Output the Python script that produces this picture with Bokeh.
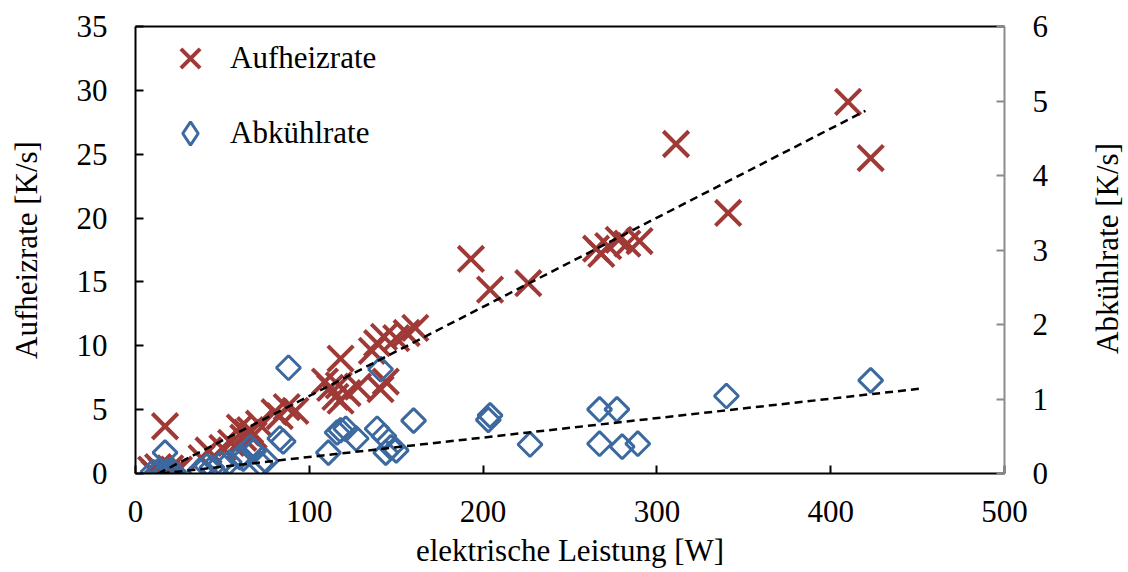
import math
from bokeh.plotting import figure
from bokeh.models import Range1d, LinearAxis, Legend, LegendItem, FixedTicker, Label
from bokeh.embed import file_html
from bokeh.resources import INLINE

# ---------------- data ----------------
heat_x = [9, 11, 13, 15, 17, 18, 20, 22, 25,
          38, 42, 50, 55, 60, 62, 64, 66, 68, 71, 80, 83, 87, 92,
          109, 112, 115, 117, 118, 118, 122, 128, 136, 139, 141, 143, 144, 150, 156, 161,
          193, 204, 226, 265, 268, 272, 278, 283, 290, 311, 341, 410, 423]
heat_y = [0.3, 0.0, 0.5, 0.2, 3.7, 0.0, 0.4, 0.1, 0.3,
          1.2, 1.8, 2.0, 2.4, 3.6, 2.8, 3.2, 3.4, 3.0, 3.9, 4.8, 4.5, 5.2, 4.9,
          7.2, 6.7, 6.0, 6.9, 5.7, 9.0, 6.3, 6.8, 9.6, 10.2, 6.6, 10.7, 7.2, 10.6, 11.0, 11.4,
          16.8, 14.4, 14.9, 17.6, 17.2, 17.8, 18.3, 18.0, 18.2, 25.8, 20.4, 29.1, 24.7]

cool_x = [10, 12, 14, 16, 18, 20, 22, 17,
          37, 41, 44, 49, 54, 60, 62, 66, 68, 72, 75, 83, 85, 88,
          111, 116, 118, 121, 127, 139, 141, 143, 144, 147, 150, 160,
          203, 204, 227, 267, 267, 277, 280, 289, 340, 423]
cool_y = [0.02, 0.0, 0.05, 0.0, 0.03, 0.0, 0.02, 0.28,
          0.04, 0.10, 0.08, 0.13, 0.15, 0.22, 0.20, 0.35, 0.30, 0.13, 0.17, 0.47, 0.43, 1.42,
          0.28, 0.55, 0.58, 0.60, 0.47, 0.60, 1.40, 0.50, 0.28, 0.35, 0.31, 0.71,
          0.72, 0.78, 0.39, 0.86, 0.40, 0.86, 0.36, 0.40, 1.04, 1.25]

trend_heat_x = [13, 420]
trend_heat_y = [0.0, 28.4]
trend_cool_x = [15, 452]
trend_cool_y = [0.0, 1.14]

x_ticks = [0, 100, 200, 300, 400, 500]
left_ticks = [0, 5, 10, 15, 20, 25, 30, 35]
right_ticks = [0, 1, 2, 3, 4, 5, 6]

RED = "#A03A37"
BLUE = "#3C69A0"
FONT = "Liberation Serif"
FS = "31px"

p = figure(width=1128, height=572, x_range=Range1d(0, 500), y_range=Range1d(0, 35),
           output_backend="svg", toolbar_location=None,
           min_border_left=135, min_border_right=124, min_border_top=26, min_border_bottom=99)
p.extra_y_ranges = {"cool": Range1d(0, 6)}
p.xgrid.visible = False
p.ygrid.visible = False
p.outline_line_color = None
p.background_fill_color = "white"
p.border_fill_color = "white"

def style(ax, color="black"):
    ax.axis_line_color = color
    ax.axis_line_width = 2
    ax.major_tick_line_color = color
    ax.major_tick_line_width = 2
    ax.major_tick_in = 8
    ax.major_tick_out = 0
    ax.minor_tick_line_color = None
    ax.major_label_text_font = FONT
    ax.major_label_text_font_size = FS
    ax.major_label_text_color = "black"
    ax.axis_label_text_font = FONT
    ax.axis_label_text_font_size = FS
    ax.axis_label_text_font_style = "normal"
    ax.axis_label_text_color = "black"

xa = p.xaxis[0]
style(xa)
xa.ticker = FixedTicker(ticks=x_ticks)
xa.axis_label = "elektrische Leistung [W]"
xa.major_label_standoff = 27
xa.axis_label_standoff = 8

ya = p.yaxis[0]
style(ya)
ya.ticker = FixedTicker(ticks=left_ticks)
ya.axis_label = "Aufheizrate [K/s]"
ya.major_label_standoff = 28
ya.axis_label_standoff = 30

ra = LinearAxis(y_range_name="cool", ticker=FixedTicker(ticks=right_ticks))
style(ra, "#8C8C8C")
ra.major_label_standoff = 28
p.add_layout(ra, "right")

# right axis title, reading bottom-to-top like the reference
p.add_layout(Label(x=56, y=225, x_units="screen", y_units="screen",
                   text="Abkühlrate [K/s]", angle=math.pi / 2,
                   text_align="center", text_baseline="middle",
                   text_font=FONT, text_font_size=FS, text_color="black"), "right")

ta = LinearAxis(ticker=FixedTicker(ticks=[]), major_tick_line_color=None,
                minor_tick_line_color=None, axis_line_width=2, axis_line_color="black",
                major_label_standoff=0, major_tick_out=0, major_tick_in=0)
p.add_layout(ta, "above")

r_heat = p.scatter(heat_x, heat_y, marker="x", size=36, line_color=RED, line_width=4)
r_cool = p.scatter(cool_x, cool_y, marker="square", angle=math.pi / 4, size=17,
                   fill_color=None, line_color=BLUE, line_width=3, y_range_name="cool")
p.line(trend_heat_x, trend_heat_y, line_color="black", line_width=2.5, line_dash="8 5")
p.line(trend_cool_x, trend_cool_y, line_color="black", line_width=2.5, line_dash="8 5",
       y_range_name="cool")

# legend key for the diamonds (legend glyphs ignore angle, so use a diamond marker)
r_cool_key = p.scatter(cool_x, cool_y, marker="diamond", fill_color=None,
                       line_color=BLUE, line_width=3, y_range_name="cool", visible=False)

leg_kw = dict(padding=0, margin=0, label_text_font=FONT, label_text_font_size=FS,
              label_text_color="black", border_line_color=None, background_fill_alpha=0)
leg1 = Legend(items=[LegendItem(label="Aufheizrate", renderers=[r_heat])],
              location=(21, 381), glyph_width=68, glyph_height=68, label_standoff=6, **leg_kw)
leg2 = Legend(items=[LegendItem(label="Abkühlrate", renderers=[r_cool_key])],
              location=(26, 311), glyph_width=58, glyph_height=58, label_standoff=11, **leg_kw)
p.add_layout(leg1)
p.add_layout(leg2)

open("out.html", "w").write(file_html(p, INLINE))
